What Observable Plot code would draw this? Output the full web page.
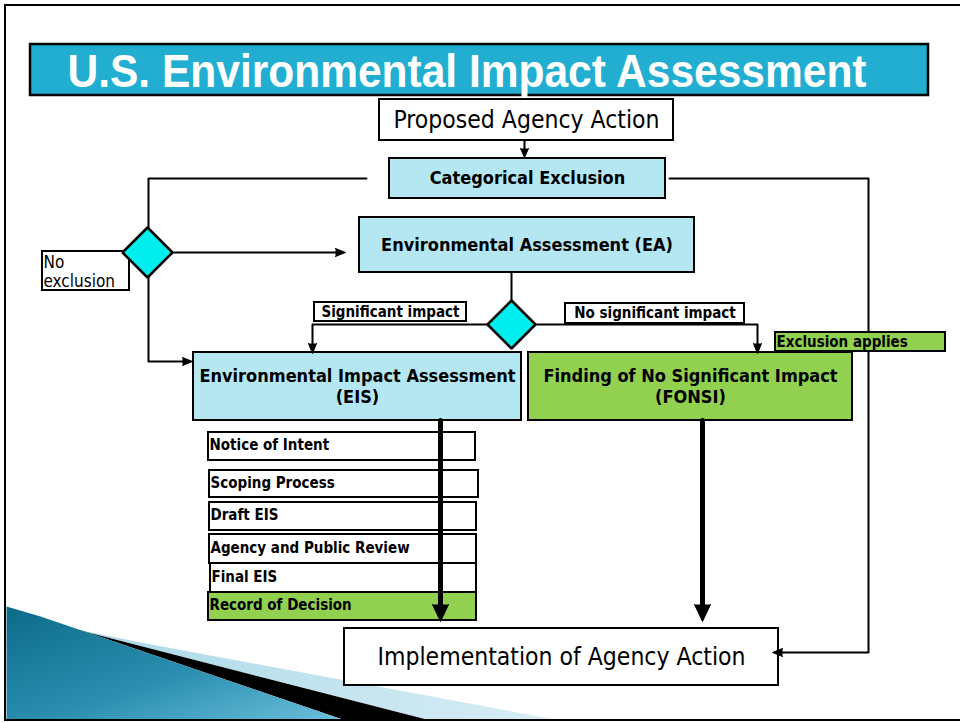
<!DOCTYPE html>
<html>
<head>
<meta charset="utf-8">
<script src="https://cdn.jsdelivr.net/npm/d3@7"></script>
<script src="https://cdn.jsdelivr.net/npm/@observablehq/plot@0.6"></script>
<style>
  html, body { margin: 0; padding: 0; background: #fff; }
  #chart svg { display: block; }
</style>
</head>
<body>
<div id="chart"></div>
<script>
// ---------- content ----------
const title = "U.S. Environmental Impact Assessment";
const nodeNames = [
  "Proposed Agency Action",
  "Categorical Exclusion",
  "Environmental Assessment (EA)",
  "Environmental Impact Assessment\n(EIS)",
  "Finding of No Significant Impact\n(FONSI)",
  "Implementation of Agency Action"
];
const eisSteps = ["Notice of Intent", "Scoping Process", "Draft EIS", "Agency and Public Review", "Final EIS", "Record of Decision"];
const branchLabels = ["No\nexclusion", "Significant impact", "No significant impact", "Exclusion applies"];

// ---------- layout (diagram geometry, pixels) ----------
const nodeBoxes = [
  [379, 99, 673, 140],
  [389, 158, 665, 198],
  [359, 217, 694, 272],
  [193, 352, 521, 420],
  [528, 352, 852, 420],
  [344, 628, 778, 685]
];
const stepBoxes = [
  [208, 432, 475, 460],
  [209, 470, 478, 497],
  [209, 502, 476, 530],
  [209, 534, 476, 563],
  [210, 563, 476, 592],
  [208, 592, 476, 620]
];
const labelBoxes = [
  [42, 251, 129, 290],
  [314, 302, 466, 321],
  [565, 303, 744, 323],
  [775, 332, 945, 351]
];
const diamonds = [[147, 252, 25], [511, 324, 24]];
const wires = [
  [[524, 140], [524, 150]],
  [[366, 178], [148, 178], [148, 228]],
  [[172, 252], [337, 252]],
  [[148, 277], [148, 361], [184, 361]],
  [[669, 178], [868, 178], [868, 652], [780, 652]],
  [[511, 272], [511, 300]],
  [[488, 324], [312, 324], [312, 345]],
  [[535, 324], [757, 324], [757, 345]]
];
const thickWires = [[[440, 420], [440, 606]], [[702, 420], [702, 606]]];
// tip x, tip y, direction, length, half-width
const heads = [
  [524, 157, "down", 9, 4],
  [345, 252, "right", 10, 4],
  [192, 361, "right", 10, 4],
  [772, 652, "left", 10, 4],
  [312, 353, "down", 10, 4],
  [757, 353, "down", 10, 4],
  [440, 621, "down", 17, 8],
  [702, 621, "down", 17, 8]
];

// ---------- colours ----------
const lightBlue = "#B5E7F3";
const green = "#92D050";
const cyan = "#00EEEE";
const titleBlue = "#21AED0";
const nodeFills = ["white", lightBlue, lightBlue, lightBlue, green, "white"];
const stepFills = ["white", "white", "white", "white", "white", green];
const labelFills = ["white", "white", "white", green];

const ff = "'DejaVu Sans Condensed', 'DejaVu Sans', Verdana, sans-serif";
const titleFont = "'Liberation Sans Narrow', 'Arial Narrow', 'Liberation Sans', Arial, sans-serif";

// ---------- derived geometry ----------
const toRect = (b, fill) => ({x1: b[0], y1: b[1], x2: b[2], y2: b[3], fill});
const polyRows = (polys) => polys.flatMap((pts, k) => pts.map(([x, y]) => ({x, y, k})));

const headPolys = heads.map(([x, y, dir, L, w]) => {
  if (dir === "down") return [[x - w, y - L], [x, y], [x + w, y - L]];
  if (dir === "right") return [[x - L, y - w], [x, y], [x - L, y + w]];
  return [[x + L, y - w], [x, y], [x + L, y + w]];
});
const diamondPolys = diamonds.map(([cx, cy, r]) => [[cx, cy - r], [cx + r, cy], [cx, cy + r], [cx - r, cy], [cx, cy - r]]);

// decorative swoosh in the lower-left corner
const swooshTeal = [[6, 606], [40, 616], [90, 633], [345, 720], [6, 720]];
const swooshBlack = [[72, 628], [430, 720], [345, 720], [90, 633]];
const swooshLight = [[140, 642], [560, 720], [430, 720], [72, 628]];

const chart = Plot.plot({
  width: 960,
  height: 723,
  margin: 0,
  x: {domain: [0, 960], range: [0, 960], axis: null},
  y: {domain: [0, 723], range: [0, 723], axis: null},
  style: {background: "white"},
  marks: [
    // swoosh
    Plot.line(polyRows([swooshLight]), {x: "x", y: "y", z: "k", fill: "url(#lightGrad)", stroke: "none"}),
    Plot.line(polyRows([swooshBlack]), {x: "x", y: "y", z: "k", fill: "black", stroke: "none"}),
    Plot.line(polyRows([swooshTeal]), {x: "x", y: "y", z: "k", fill: "url(#tealGrad)", stroke: "none"}),
    // slide frame
    Plot.rect([toRect([5, 5, 975, 720], "none")], {x1: "x1", y1: "y1", x2: "x2", y2: "y2", fill: "none", stroke: "black", strokeWidth: 2}),
    // title bar
    Plot.rect([toRect([30, 44, 928, 95], titleBlue)], {x1: "x1", y1: "y1", x2: "x2", y2: "y2", fill: "fill", stroke: "black", strokeWidth: 2.5}),
    Plot.text([title], {x: 67, y: 71, text: d => d, textAnchor: "start", fill: "white", fontSize: 47, fontWeight: "bold", fontFamily: titleFont, className: "slide-title"}),
    // connectors
    Plot.line(polyRows(wires), {x: "x", y: "y", z: "k", stroke: "black", strokeWidth: 2}),
    // boxes
    Plot.rect(nodeBoxes.map((b, i) => toRect(b, nodeFills[i])), {x1: "x1", y1: "y1", x2: "x2", y2: "y2", fill: "fill", stroke: "black", strokeWidth: 2}),
    Plot.rect(stepBoxes.map((b, i) => toRect(b, stepFills[i])), {x1: "x1", y1: "y1", x2: "x2", y2: "y2", fill: "fill", stroke: "black", strokeWidth: 2}),
    Plot.rect(labelBoxes.map((b, i) => toRect(b, labelFills[i])), {x1: "x1", y1: "y1", x2: "x2", y2: "y2", fill: "fill", stroke: "black", strokeWidth: 2}),
    // decision diamonds
    Plot.line(polyRows(diamondPolys), {x: "x", y: "y", z: "k", fill: cyan, stroke: "black", strokeWidth: 2.5, strokeLinejoin: "miter"}),
    // thick flow arrows
    Plot.line(polyRows(thickWires), {x: "x", y: "y", z: "k", stroke: "black", strokeWidth: 5}),
    Plot.line(polyRows(headPolys), {x: "x", y: "y", z: "k", fill: "black", stroke: "black", strokeWidth: 1}),
    // node texts
    Plot.text([0, 5], {x: i => (nodeBoxes[i][0] + nodeBoxes[i][2]) / 2, y: i => (nodeBoxes[i][1] + nodeBoxes[i][3]) / 2, text: i => nodeNames[i], fontSize: 24.5, fontFamily: ff, fill: "black"}),
    Plot.text([1, 2, 3, 4], {x: i => (nodeBoxes[i][0] + nodeBoxes[i][2]) / 2, y: i => (nodeBoxes[i][1] + nodeBoxes[i][3]) / 2 - 1, text: i => nodeNames[i], fontSize: 18, fontWeight: "bold", lineHeight: 1.2, fontFamily: ff, fill: "black"}),
    // EIS steps
    Plot.text(eisSteps, {x: (d, i) => stepBoxes[i][0] + 1, y: (d, i) => (stepBoxes[i][1] + stepBoxes[i][3]) / 2 - 1, text: d => d, textAnchor: "start", fontSize: 15, fontWeight: "bold", fontFamily: ff, fill: "black"}),
    // branch labels
    Plot.text([branchLabels[0]], {x: labelBoxes[0][0] + 1, y: (labelBoxes[0][1] + labelBoxes[0][3]) / 2, text: d => d, textAnchor: "start", fontSize: 17, lineHeight: 1.12, fontFamily: ff, fill: "black"}),
    Plot.text([1, 2], {x: i => (labelBoxes[i][0] + labelBoxes[i][2]) / 2, y: i => (labelBoxes[i][1] + labelBoxes[i][3]) / 2, text: i => branchLabels[i], fontSize: 15, fontWeight: "bold", fontFamily: ff, fill: "black"}),
    Plot.text([3], {x: i => labelBoxes[i][0] + 1, y: i => (labelBoxes[i][1] + labelBoxes[i][3]) / 2, text: i => branchLabels[i], textAnchor: "start", fontSize: 15, fontWeight: "bold", fontFamily: ff, fill: "black"})
  ]
});

// narrow the title to the condensed width it has on the slide
d3.select(chart).selectAll("g.slide-title text, .slide-title text")
  .attr("textLength", 799).attr("lengthAdjust", "spacingAndGlyphs");

// gradients for the decorative swoosh
const defs = d3.select(chart).insert("defs", ":first-child");
const tg = defs.append("linearGradient").attr("id", "tealGrad").attr("x1", "0").attr("y1", "0").attr("x2", "1").attr("y2", "1");
tg.append("stop").attr("offset", "0%").attr("stop-color", "#0c6a88");
tg.append("stop").attr("offset", "55%").attr("stop-color", "#2b8fb0");
tg.append("stop").attr("offset", "100%").attr("stop-color", "#6cc0dc");
const lg = defs.append("linearGradient").attr("id", "lightGrad").attr("x1", "0").attr("y1", "0").attr("x2", "1").attr("y2", "0");
lg.append("stop").attr("offset", "0%").attr("stop-color", "#a9d8e8");
lg.append("stop").attr("offset", "100%").attr("stop-color", "#d9eef5");

document.getElementById("chart").appendChild(chart);
</script>
</body>
</html>
